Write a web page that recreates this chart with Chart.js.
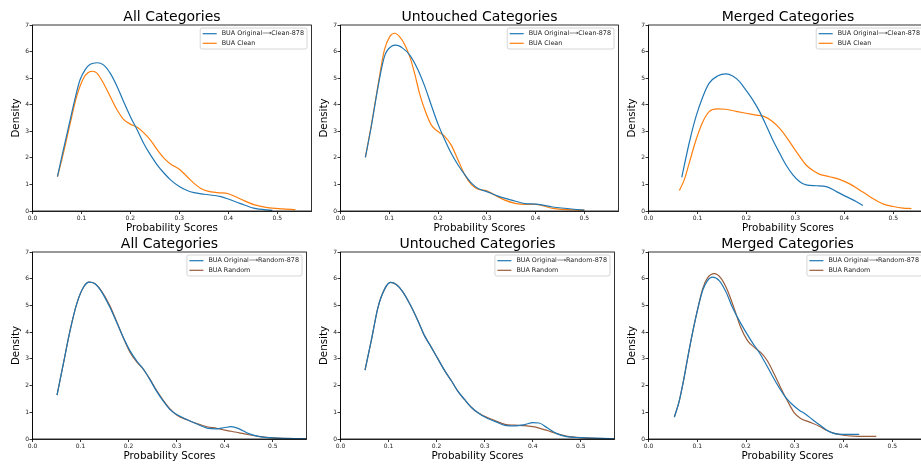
<!DOCTYPE html>
<html>
<head>
<meta charset="utf-8">
<script src="https://cdn.jsdelivr.net/npm/chart.js@4.4.0/dist/chart.umd.min.js"></script>
<style>
  body { margin: 0; background: #fff; }
  #fig { position: relative; width: 921px; height: 468px; overflow: hidden; background: #fff; }
  #fig canvas { position: absolute; }
</style>
</head>
<body>
<div id="fig"></div>
<script>
// KDE curves (x = probability score, y = density)

// All Categories, clean
const allCleanOrigX = [0.051,0.063,0.077,0.087,0.097,0.108,0.118,0.132,0.145,0.159,0.173,0.186,0.2,0.214,0.227,0.241,0.255,0.269,0.282,0.3,0.316,0.33,0.351,0.385,0.4,0.425,0.452,0.49];
const allCleanOrigY = [1.29,2.30,3.43,4.24,4.93,5.33,5.52,5.58,5.50,5.18,4.68,4.12,3.55,3.05,2.55,2.11,1.73,1.42,1.17,0.92,0.77,0.69,0.63,0.54,0.45,0.28,0.11,0.02];
const allCleanX = [0.051,0.063,0.077,0.090,0.104,0.114,0.123,0.132,0.145,0.159,0.173,0.186,0.2,0.214,0.227,0.241,0.255,0.269,0.282,0.3,0.316,0.33,0.344,0.358,0.378,0.4,0.425,0.452,0.48,0.51,0.537];
const allCleanY = [1.29,2.17,3.30,4.30,4.99,5.21,5.26,5.18,4.81,4.30,3.80,3.45,3.27,3.15,2.95,2.67,2.30,1.98,1.77,1.57,1.29,1.04,0.85,0.75,0.69,0.65,0.45,0.24,0.13,0.08,0.05];

// Untouched Categories, clean
const untCleanOrigX = [0.051,0.063,0.077,0.090,0.104,0.114,0.128,0.142,0.159,0.173,0.186,0.2,0.214,0.227,0.241,0.255,0.269,0.282,0.3,0.323,0.351,0.378,0.401,0.435,0.5];
const untCleanOrigY = [2.02,3.17,4.68,5.81,6.19,6.24,6.12,5.87,5.31,4.68,3.99,3.27,2.67,2.17,1.73,1.36,1.04,0.85,0.73,0.56,0.41,0.28,0.26,0.15,0.03];
const untCleanX = [0.051,0.063,0.077,0.090,0.101,0.111,0.121,0.132,0.142,0.152,0.162,0.173,0.186,0.2,0.214,0.227,0.241,0.255,0.269,0.282,0.3,0.316,0.337,0.358,0.378,0.401,0.435,0.5];
const untCleanY = [2.02,3.20,4.74,6.06,6.56,6.69,6.56,6.25,5.81,5.18,4.43,3.80,3.24,2.99,2.80,2.48,1.92,1.36,0.98,0.82,0.76,0.60,0.41,0.29,0.25,0.25,0.10,0.03];

// Merged Categories, clean
const merCleanOrigX = [0.068,0.083,0.097,0.111,0.124,0.141,0.158,0.172,0.186,0.199,0.213,0.227,0.24,0.254,0.268,0.281,0.295,0.309,0.322,0.343,0.363,0.384,0.404,0.425,0.438];
const merCleanOrigY = [1.27,2.55,3.55,4.30,4.81,5.08,5.16,5.08,4.87,4.55,4.18,3.74,3.24,2.67,2.17,1.73,1.36,1.10,0.98,0.95,0.92,0.73,0.54,0.35,0.21];
const merCleanX = [0.063,0.073,0.083,0.097,0.111,0.124,0.141,0.158,0.179,0.199,0.22,0.237,0.254,0.268,0.281,0.295,0.309,0.322,0.336,0.35,0.37,0.39,0.411,0.431,0.445,0.46,0.48,0.5,0.52,0.537];
const merCleanY = [0.77,1.17,1.79,2.67,3.36,3.74,3.84,3.83,3.75,3.68,3.61,3.55,3.36,3.11,2.80,2.42,2.05,1.73,1.52,1.38,1.29,1.19,1.02,0.79,0.63,0.45,0.26,0.17,0.11,0.09];

// All Categories, random
const allRandX = [0.051,0.064,0.078,0.092,0.106,0.118,0.13,0.144,0.161,0.175,0.189,0.203,0.217,0.231,0.244,0.258,0.272,0.286,0.3,0.321,0.342,0.363,0.383,0.40,0.413,0.43,0.45,0.47,0.5,0.57];
const allRandOrigY = [1.64,2.80,4.05,5.06,5.68,5.87,5.81,5.50,4.93,4.37,3.80,3.30,2.92,2.61,2.23,1.79,1.42,1.10,0.92,0.73,0.56,0.41,0.38,0.43,0.46,0.38,0.20,0.10,0.04,0.01];
const allRandY = [1.64,2.80,4.05,5.06,5.68,5.87,5.81,5.53,4.99,4.40,3.78,3.24,2.88,2.60,2.25,1.82,1.45,1.13,0.90,0.72,0.58,0.46,0.40,0.33,0.29,0.23,0.16,0.10,0.04,0.01];

// Untouched Categories, random
const untRandX = [0.051,0.064,0.078,0.092,0.104,0.116,0.13,0.144,0.161,0.175,0.189,0.203,0.217,0.231,0.244,0.258,0.272,0.286,0.3,0.321,0.342,0.363,0.383,0.40,0.413,0.43,0.45,0.47,0.5,0.57];
const untRandOrigY = [2.58,3.68,4.93,5.62,5.86,5.78,5.50,5.06,4.43,3.86,3.43,2.99,2.55,2.17,1.79,1.48,1.19,0.98,0.82,0.66,0.51,0.49,0.54,0.61,0.60,0.42,0.20,0.09,0.05,0.01];
const untRandY = [2.58,3.68,4.93,5.62,5.86,5.78,5.50,5.06,4.43,3.86,3.43,2.99,2.55,2.17,1.79,1.48,1.19,0.98,0.85,0.69,0.55,0.52,0.50,0.46,0.41,0.32,0.20,0.11,0.05,0.01];

// Merged Categories, random
const merRandOrigX = [0.053,0.063,0.073,0.083,0.097,0.111,0.121,0.131,0.145,0.159,0.172,0.186,0.2,0.213,0.227,0.241,0.254,0.268,0.282,0.295,0.309,0.323,0.336,0.35,0.364,0.377,0.39,0.41,0.432];
const merRandOrigY = [0.82,1.42,2.30,3.30,4.55,5.56,5.93,6.06,5.93,5.50,4.93,4.43,3.99,3.61,3.24,2.80,2.36,1.92,1.54,1.29,1.08,0.92,0.73,0.54,0.35,0.23,0.18,0.17,0.17];
const merRandX = [0.053,0.063,0.073,0.083,0.097,0.111,0.121,0.135,0.148,0.162,0.176,0.189,0.203,0.217,0.23,0.244,0.258,0.271,0.285,0.299,0.312,0.329,0.35,0.367,0.381,0.40,0.42,0.44,0.467];
const merRandY = [0.82,1.42,2.30,3.30,4.55,5.62,6.03,6.19,6.03,5.56,4.87,4.18,3.68,3.43,3.24,2.92,2.42,1.92,1.42,0.98,0.77,0.64,0.48,0.31,0.21,0.14,0.11,0.10,0.10];

const xTicks = [0, 0.1, 0.2, 0.3, 0.4, 0.5];
const yTicks = [0, 1, 2, 3, 4, 5, 6, 7];

const BLUE = '#1f77b4';
const ORANGE = '#ff7f0e';
const BROWN = '#9a5d3c';
const FONT = '"DejaVu Sans", sans-serif';

const toPoints = (xs, ys) => xs.map((x, i) => ({ x, y: ys[i] }));

// matplotlib-style frame around the axes
const framePlugin = {
  id: 'frame',
  afterDatasetsDraw(chart) {
    const { ctx, chartArea: a } = chart;
    ctx.save();
    ctx.strokeStyle = '#000';
    ctx.lineWidth = 0.8;
    ctx.strokeRect(a.left, a.top, a.right - a.left, a.bottom - a.top);
    ctx.restore();
  }
};

// title centred over the plot area (not the whole canvas)
const axesTitlePlugin = {
  id: 'axesTitle',
  afterDraw(chart, args, opts) {
    const { ctx, chartArea: a } = chart;
    ctx.save();
    ctx.font = '14px ' + FONT;
    ctx.fillStyle = '#000';
    ctx.textAlign = 'center';
    ctx.textBaseline = 'alphabetic';
    ctx.fillText(opts.text, (a.left + a.right) / 2, a.top - 4);
    ctx.restore();
  }
};

// legend box drawn inside the top-right corner of the plot
const boxLegendPlugin = {
  id: 'boxLegend',
  afterDraw(chart) {
    const { ctx, chartArea: a } = chart;
    const sets = chart.data.datasets;
    ctx.save();
    ctx.font = '6.4px ' + FONT;
    const textW = Math.max(...sets.map(d => ctx.measureText(d.label).width));
    const w = 2.5 + 14 + 5 + textW + 3;
    const h = 21;
    const x0 = a.right - 4.5 - w;
    const y0 = a.top + 3;
    ctx.fillStyle = 'rgba(255,255,255,0.85)';
    ctx.strokeStyle = '#cccccc';
    ctx.lineWidth = 0.8;
    ctx.beginPath();
    ctx.roundRect(x0, y0, w, h, 2);
    ctx.fill();
    ctx.stroke();
    sets.forEach((d, i) => {
      const yy = y0 + 5.7 + i * 9.6;
      ctx.strokeStyle = d.borderColor;
      ctx.lineWidth = 1.2;
      ctx.beginPath();
      ctx.moveTo(x0 + 2.5, yy);
      ctx.lineTo(x0 + 16.5, yy);
      ctx.stroke();
      ctx.fillStyle = '#222';
      ctx.textBaseline = 'middle';
      ctx.fillText(d.label, x0 + 21.5, yy);
    });
    ctx.restore();
  }
};

const panels = [
  { title: 'All Categories', left: 0, top: 0, plotW: 279, plotH: 186,
    series: [['BUA Original\u27F6Clean-878', BLUE, allCleanOrigX, allCleanOrigY], ['BUA Clean', ORANGE, allCleanX, allCleanY]] },
  { title: 'Untouched Categories', left: 308, top: 0, plotW: 278, plotH: 186,
    series: [['BUA Original\u27F6Clean-878', BLUE, untCleanOrigX, untCleanOrigY], ['BUA Clean', ORANGE, untCleanX, untCleanY]] },
  { title: 'Merged Categories', left: 616, top: 0, plotW: 279, plotH: 186,
    series: [['BUA Original\u27F6Clean-878', BLUE, merCleanOrigX, merCleanOrigY], ['BUA Clean', ORANGE, merCleanX, merCleanY]] },
  { title: 'All Categories', left: 0, top: 227, plotW: 274, plotH: 187,
    series: [['BUA Original\u27F6Random-878', BLUE, allRandX, allRandOrigY], ['BUA Random', BROWN, allRandX, allRandY]] },
  { title: 'Untouched Categories', left: 308, top: 227, plotW: 274, plotH: 187,
    series: [['BUA Original\u27F6Random-878', BLUE, untRandX, untRandOrigY], ['BUA Random', BROWN, untRandX, untRandY]] },
  { title: 'Merged Categories', left: 616, top: 227, plotW: 278, plotH: 187,
    series: [['BUA Original\u27F6Random-878', BLUE, merRandOrigX, merRandOrigY], ['BUA Random', BROWN, merRandX, merRandY]] }
];

const Y_AXIS_W = 32.5;
const X_AXIS_H = 25;
const TITLE_H = 25;

const fig = document.getElementById('fig');

panels.forEach(p => {
  const width = Math.round(Y_AXIS_W + p.plotW + 5);
  const height = TITLE_H + p.plotH + X_AXIS_H;
  const canvas = document.createElement('canvas');
  canvas.width = width;
  canvas.height = height;
  canvas.style.left = p.left + 'px';
  canvas.style.top = p.top + 'px';
  canvas.style.width = width + 'px';
  canvas.style.height = height + 'px';
  fig.appendChild(canvas);

  new Chart(canvas, {
    type: 'line',
    data: {
      datasets: p.series.map(([label, color, xs, ys]) => ({
        label,
        data: toPoints(xs, ys),
        borderColor: color,
        backgroundColor: color,
        borderWidth: 1.2,
        pointRadius: 0,
        fill: false,
        cubicInterpolationMode: 'monotone'
      }))
    },
    options: {
      responsive: false,
      animation: false,
      devicePixelRatio: 1,
      layout: { padding: { left: 0, top: TITLE_H, bottom: 0, right: width - Y_AXIS_W - p.plotW } },
      plugins: {
        legend: { display: false },
        tooltip: { enabled: false },
        title: { display: false },
        axesTitle: { text: p.title }
      },
      scales: {
        x: {
          type: 'linear',
          min: 0,
          max: 0.57,
          afterBuildTicks: s => { s.ticks = xTicks.map(v => ({ value: v })); },
          afterFit: s => { s.height = X_AXIS_H; },
          ticks: {
            color: '#222',
            font: { family: FONT, size: 6 },
            padding: 1.2,
            maxRotation: 0,
            autoSkip: false,
            callback: v => v.toFixed(1)
          },
          grid: { drawOnChartArea: false, drawTicks: true, tickLength: 3, color: '#000', lineWidth: 0.8 },
          border: { display: true, color: '#000', width: 0.8 },
          title: {
            display: true,
            text: 'Probability Scores',
            color: '#000',
            font: { family: FONT, size: 10.3 },
            padding: { top: 0, bottom: 1 }
          }
        },
        y: {
          min: 0,
          max: 7,
          afterBuildTicks: s => { s.ticks = yTicks.map(v => ({ value: v })); },
          afterFit: s => { s.width = Y_AXIS_W; },
          ticks: {
            color: '#222',
            font: { family: FONT, size: 6 },
            padding: 0.5,
            autoSkip: false,
            callback: v => String(v)
          },
          grid: { drawOnChartArea: false, drawTicks: true, tickLength: 3, color: '#000', lineWidth: 0.8 },
          border: { display: true, color: '#000', width: 0.8 },
          title: {
            display: true,
            text: 'Density',
            color: '#000',
            font: { family: FONT, size: 10.3 },
            padding: { top: 9.8, bottom: 0 }
          }
        }
      }
    },
    plugins: [framePlugin, axesTitlePlugin, boxLegendPlugin]
  });
});
</script>
</body>
</html>
